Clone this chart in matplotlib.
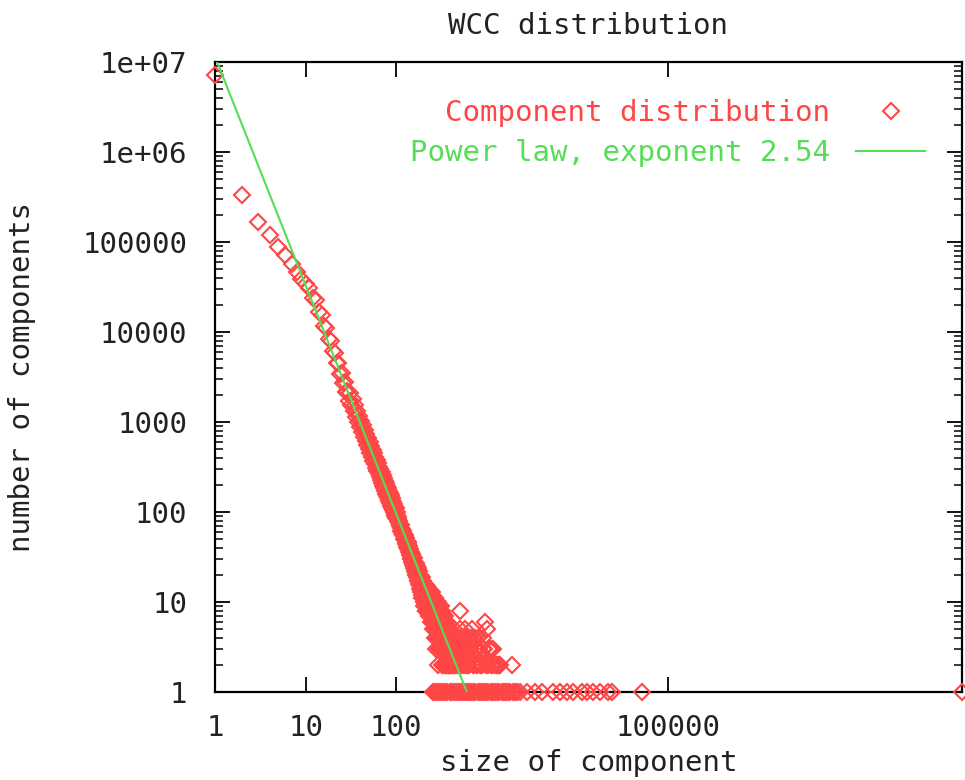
import numpy as np
import matplotlib
matplotlib.use("Agg")
import matplotlib.pyplot as plt
from matplotlib.ticker import FixedLocator, NullLocator, LogLocator

# ---------------- data ----------------
title = "WCC distribution"
x_label = "size of component"
y_label = "number of components"
data_label = "Component distribution"
fit_label = "Power law, exponent 2.54"

# component sizes 1..200, one entry per size
sizes_a = list(range(1, 201))
counts_a = [
    7200000, 330000, 166000, 121000, 89000, 71000, 57000, 46000, 39000, 34000,
    31000, 24000, 22500, 16800, 15500, 11700, 11000, 8400, 8000, 6100,
    5900, 4500, 4500, 3450, 3500, 2700, 2800, 2150, 2200, 1700,
    2090, 1540, 1790, 1320, 1540, 1140, 1340, 995, 1170, 872,
    1030, 770, 915, 685, 815, 612, 730, 549, 656, 495,
    594, 449, 539, 408, 489, 371, 447, 340, 410, 312,
    376, 287, 346, 264, 320, 245, 297, 227, 276, 211,
    255, 196, 239, 183, 223, 171, 208, 160, 195, 150,
    184, 142, 172, 133, 162, 125, 153, 118, 144, 111,
    137, 105, 129, 100, 122, 94, 115, 90, 110, 85,
    92, 99, 85, 88, 80, 83, 76, 79, 71, 74,
    70, 66, 71, 62, 64, 59, 63, 55, 58, 61,
    54, 57, 50, 53, 49, 55, 46, 51, 44, 48,
    45, 47, 41, 44, 39, 46, 38, 42, 36, 40,
    37, 33, 39, 35, 31, 36, 30, 34, 28, 33,
    30, 27, 32, 26, 29, 25, 31, 24, 28, 27,
    23, 26, 22, 27, 21, 24, 20, 25, 19, 23,
    22, 18, 21, 17, 24, 19, 16, 20, 18, 22,
    15, 19, 17, 14, 20, 16, 13, 18, 15, 17,
    12, 16, 14, 19, 11, 15, 13, 17, 12, 14,
]

# sizes 202..400 (even sizes)
sizes_b = list(range(202, 401, 2))
counts_b = [
    13, 10, 15, 12, 9, 14, 11, 8, 13, 10,
    12, 9, 11, 7, 13, 10, 8, 12, 9, 11,
    7, 10, 8, 12, 6, 9, 11, 7, 10, 8,
    6, 9, 7, 11, 5, 8, 10, 6, 9, 4,
    7, 5, 8, 10, 6, 4, 9, 5, 7, 3,
    6, 8, 4, 5, 9, 3, 7, 5, 6, 4,
    8, 3, 5, 6, 2, 7, 4, 5, 3, 6,
    4, 5, 2, 7, 3, 4, 6, 2, 5, 3,
    4, 2, 6, 3, 5, 2, 4, 3, 2, 5,
    3, 2, 4, 2, 3, 5, 2, 3, 4, 2,
]

# odd sizes 201..299
sizes_d = list(range(201, 300, 2))
counts_d = [
    14, 11, 9, 16, 12, 10, 13, 8, 12, 15,
    10, 13, 8, 11, 14, 9, 12, 7, 10, 13,
    9, 11, 6, 10, 13, 8, 5, 11, 7, 9,
    10, 6, 8, 4, 9, 11, 5, 7, 3, 8,
    6, 9, 4, 7, 2, 8, 5, 3, 6, 4,
]

# scattered larger sizes with small counts
sizes_c = [410, 415, 425, 430, 435, 440, 450, 455, 470, 480, 490, 500, 510, 520, 520,
           530, 550, 560, 575, 580, 600, 610, 620, 630, 650, 660, 690, 700, 720, 740,
           750, 760, 780, 800, 850, 880, 900, 900, 950, 980, 1000, 1050, 1050, 1100,
           1150, 1170, 1250, 1300, 1350, 1400, 1900,
           305, 318, 327, 338, 352, 361, 374, 385, 396, 418, 433, 446, 462, 476, 497,
           512, 538, 556, 590, 615, 640, 675, 710, 770, 820, 870, 930, 1020, 1120,
           1200, 1320]
counts_c = [4, 2, 3, 4, 2, 5, 3, 2, 3, 2, 4, 3, 8, 2, 4,
            2, 3, 2, 5, 3, 2, 4, 2, 3, 3, 4, 5, 2, 2, 3,
            4, 3, 2, 4, 2, 2, 4, 3, 6, 2, 5, 3, 3, 2,
            2, 3, 2, 2, 2, 2, 2,
            3, 2, 4, 3, 2, 5, 3, 4, 2, 3, 2, 4, 2, 3, 2,
            5, 3, 4, 2, 3, 2, 3, 4, 2, 3, 2, 3, 2, 3,
            2, 2]

# sizes that occur exactly once
sizes_single = [252, 268, 281, 297, 315, 331, 349, 366, 388, 405, 423, 447, 468, 492,
                515, 547, 572, 605, 638, 671, 712, 749, 793, 836, 884, 931, 987, 1043,
                1101, 1168, 1232, 1304, 1377, 1459, 1541, 1630, 1725, 1824, 1930, 2042,
                2160, 2330, 2770, 3400, 4060, 5370, 6400, 7670, 8900, 11200, 12800,
                14800, 17700, 21800, 24000, 51600]
giant_size = 1.76e8

# power-law fit
fit_exponent = 2.54
fit_coeff = 1.15e7

x_ticks = [1, 10, 100, 100000]
x_tick_labels = ["1", "10", "100", "100000"]
y_ticks = [1, 10, 100, 1000, 10000, 100000, 1e6, 1e7]
y_tick_labels = ["1", "10", "100", "1000", "10000", "100000", "1e+06", "1e+07"]

# ---------------- figure ----------------
W, H = 965, 780
FONT = ["DejaVu Sans Mono"]
FS = 21
red = "#ff4646"
green = "#55dd55"

fig = plt.figure(figsize=(W / 100, H / 100), dpi=100)
fig.patch.set_facecolor("white")
ax = fig.add_axes([215 / W, 1 - 692 / H, (962 - 215) / W, (692 - 62) / H])

all_sizes = np.array(sizes_a + sizes_b + sizes_d + sizes_c + sizes_single + [giant_size],
                     dtype=float)
all_counts = np.array(counts_a + counts_b + counts_d + counts_c
                      + [1] * len(sizes_single) + [1], dtype=float)

ax.plot(all_sizes, all_counts, ls="none", marker="D", ms=7.8, mfc="none",
        mec=red, mew=1.5, color=red, label=data_label, clip_on=False, zorder=3)

xmin, xmax = 1, giant_size
fx = np.array([xmin, xmax])
ax.plot(fx, fit_coeff * fx ** (-fit_exponent), color=green, lw=1.5,
        label=fit_label, zorder=4)

ax.set_xscale("log")
ax.set_yscale("log")
ax.set_xlim(xmin, xmax)
ax.set_ylim(1, 1e7)

ax.xaxis.set_major_locator(FixedLocator(x_ticks))
ax.set_xticklabels(x_tick_labels)
ax.xaxis.set_minor_locator(NullLocator())
ax.yaxis.set_major_locator(FixedLocator(y_ticks))
ax.set_yticklabels(y_tick_labels)
ax.yaxis.set_minor_locator(LogLocator(base=10, subs=np.arange(2, 10), numticks=50))

ax.tick_params(which="both", direction="in", top=True, right=True, color="black")
ax.tick_params(which="major", length=11, width=1.3)
ax.tick_params(which="minor", length=5.5, width=1.1)
ax.tick_params(axis="x", which="major", pad=16)
ax.tick_params(axis="y", which="major", pad=20)

for lab in ax.get_xticklabels() + ax.get_yticklabels():
    lab.set_fontfamily(FONT)
    lab.set_fontsize(FS)
    lab.set_color("#222222")

for s in ax.spines.values():
    s.set_linewidth(1.6)
    s.set_color("black")

ax.set_title(title, family=FONT, fontsize=FS, color="#222222", pad=20)
ax.set_xlabel(x_label, family=FONT, fontsize=FS, color="#222222")
ax.set_ylabel(y_label, family=FONT, fontsize=FS, color="#222222")
ax.xaxis.set_label_coords(0.5, -(763 - 692) / (692 - 62), transform=ax.transAxes)
ax.xaxis.label.set_va("center")
ax.yaxis.set_label_coords(-(215 - 22) / (962 - 215), 0.5, transform=ax.transAxes)
ax.yaxis.label.set_va("center")

leg = ax.legend(loc="upper right", bbox_to_anchor=(925 / W, 1 - 99 / H),
                bbox_transform=fig.transFigure, frameon=False, markerfirst=False,
                prop={"family": FONT, "size": FS}, labelcolor="linecolor",
                handlelength=2.35, handletextpad=0.9, borderpad=0, borderaxespad=0,
                labelspacing=0.42, numpoints=1)

fig.savefig("out.png", dpi=100, facecolor="white")
